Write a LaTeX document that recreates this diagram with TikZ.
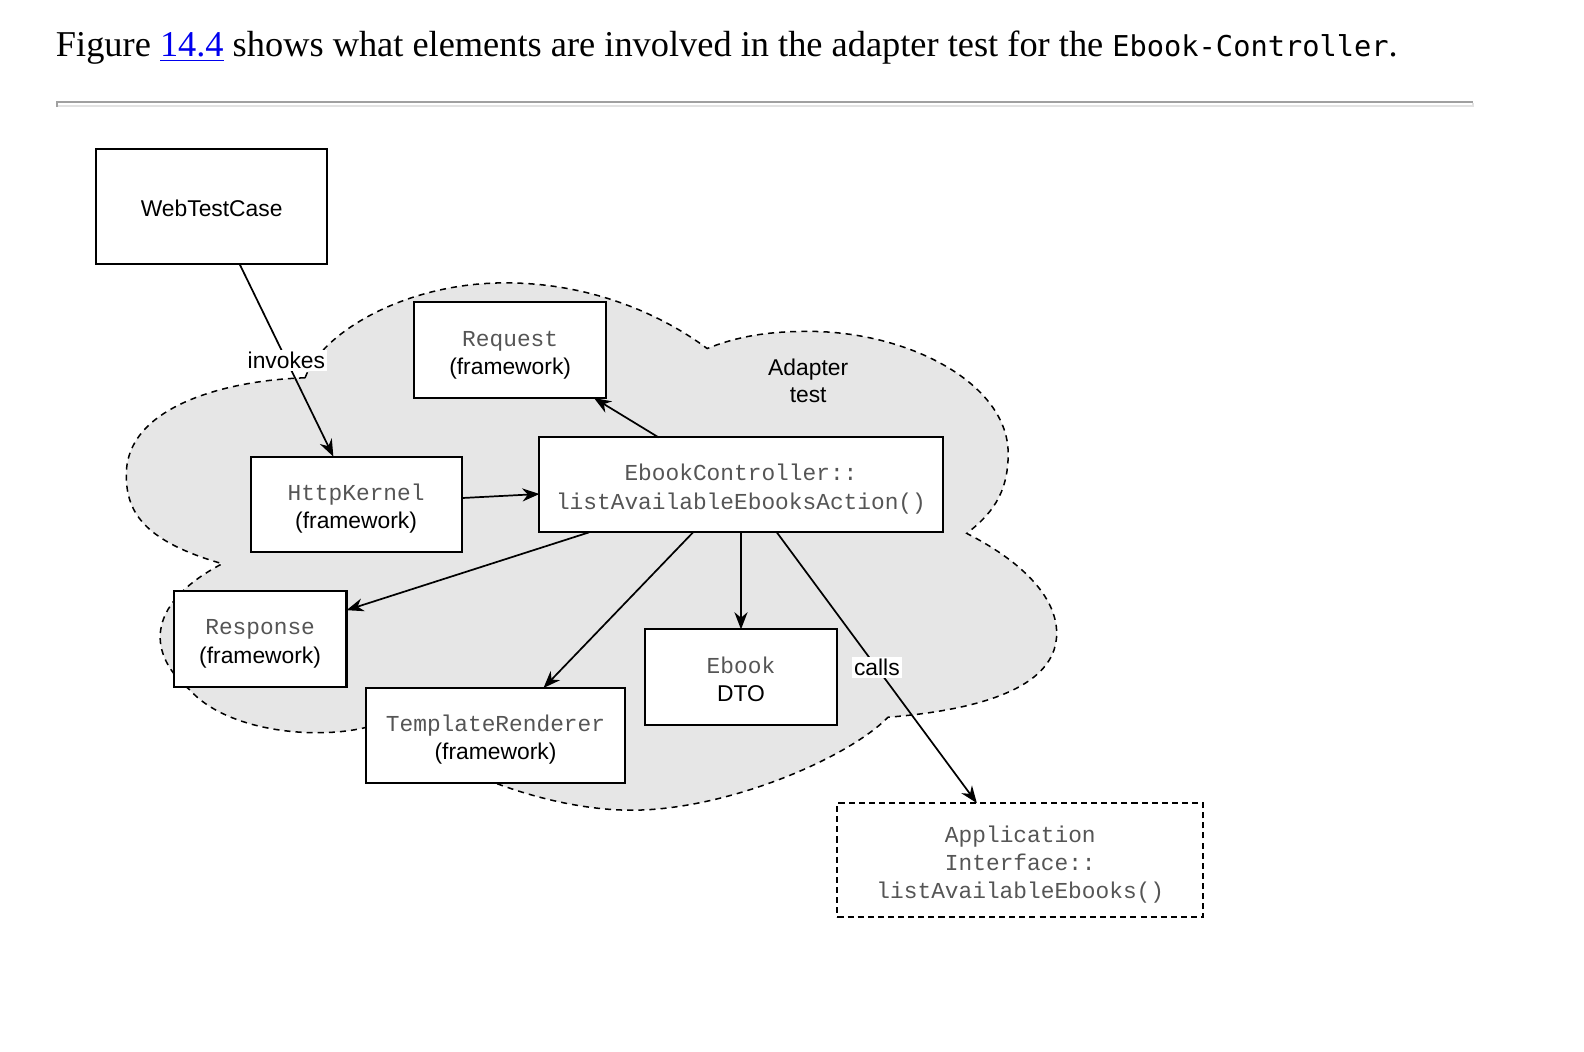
\documentclass[tikz,border=0pt]{standalone}
\usepackage{fontspec}
\setmainfont{Liberation Serif}
\setsansfont{Liberation Sans}
\setmonofont{Liberation Mono}
\newfontfamily\headmono{DejaVu Sans Mono}
\usetikzlibrary{arrows.meta}
\definecolor{cloudgray}{HTML}{E6E6E6}
\definecolor{codegray}{HTML}{555555}
\definecolor{linkblue}{HTML}{0000EE}
\definecolor{ruledark}{HTML}{A0A0A0}
\definecolor{rulelight}{HTML}{E2E2E2}
\newcommand{\codetxt}[1]{{\ttfamily\color{codegray}#1}}
\newcommand{\topline}{\rule{0pt}{13pt}}

\begin{document}
\begin{tikzpicture}[x=0.5pt, y=-0.5pt,
		box/.style = {
			draw, rectangle, fill=white,
			line width=1pt, align=center,
			outer sep=0pt, inner sep=0pt,
			font=\sffamily\fontsize{11.3}{14}\selectfont,
			execute at end node={\rule[-3pt]{0pt}{0pt}}
		},
		conn/.style = {line width=0.85pt, -{Stealth[length=8.5pt, width=6.5pt]}},
		lbl/.style = {fill=white, inner sep=1pt, font=\sffamily\fontsize{11.3}{13}\selectfont}
		]
		\useasboundingbox (0,0) rectangle (1568,1041);
		\node[anchor=base west, inner sep=0pt, font=\fontsize{18}{20}\selectfont] (caption) at (55,56)
			{Figure \textcolor{linkblue}{\underline{14.4}} shows what elements are involved in the adapter test for the {\headmono\fontsize{14.2}{16}\selectfont Ebook-Controller}.};
		\draw[line width=1pt, ruledark] (56,106) -- (56,101) -- (1458,101);
		\draw[line width=1pt, rulelight] (57,105) -- (1458,105) -- (1458,102);
		% adapter test cloud
		\path[draw, fill=cloudgray, line width=0.75pt, dash pattern=on 3pt off 2.5pt]
			(302,374) .. controls (318,330) and (400,280) .. (500,280)
			.. controls (590,280) and (660,315) .. (700,345)
			.. controls (730,333) and (760,328) .. (800,328)
			.. controls (900,328) and (998,380) .. (998,449)
			.. controls (998,490) and (980,510) .. (957,528)
			.. controls (1010,555) and (1046,590) .. (1046,627)
			.. controls (1046,690) and (940,705) .. (879,710)
			.. controls (840,750) and (720,802) .. (625,802)
			.. controls (540,802) and (430,760) .. (385,712)
			.. controls (340,735) and (230,730) .. (188,683)
			.. controls (148,650) and (140,600) .. (220,558)
			.. controls (140,535) and (125,505) .. (125,470)
			.. controls (125,400) and (230,376) .. cycle;
		\node[font=\sffamily\fontsize{11.3}{13.5}\selectfont, align=center] (title) at (800,377) {Adapter\\test};
		\node[box, minimum width=114.5pt, minimum height=57pt] (web) at (209.5,204) {\topline WebTestCase};
		\node[box, minimum width=95pt, minimum height=47.5pt] (req) at (505,346.5) {\topline\codetxt{Request}\\(framework)};
		\node[box, minimum width=104.5pt, minimum height=47pt] (kernel) at (352.5,499) {\topline\codetxt{HttpKernel}\\(framework)};
		\node[box, minimum width=199.5pt, minimum height=47pt] (ctrl) at (733.5,480) {\topline\codetxt{EbookController::}\\\codetxt{listAvailableEbooksAction()}};
		\node[box, minimum width=85.5pt, minimum height=47.5pt] (resp) at (257.5,632.5) {\topline\codetxt{Response}\\(framework)};
		\node[box, minimum width=128.5pt, minimum height=47pt] (tmpl) at (490.5,728) {\topline\codetxt{TemplateRenderer}\\(framework)};
		\node[box, minimum width=95.5pt, minimum height=47.5pt] (dto) at (733.5,670.5) {\topline\codetxt{Ebook}\\DTO};
		\node[box, dash pattern=on 3pt off 2pt, minimum width=181pt, minimum height=56.5pt] (api) at (1010,851.5)
			{\topline\codetxt{Application}\\\codetxt{Interface::}\\\codetxt{listAvailableEbooks()}};
		\draw[conn] ([xshift=13.75pt]web.south) -- node[lbl] {invokes} ([xshift=-11.25pt]kernel.north);
		\draw[conn] ([yshift=3pt]kernel.east) -- ([yshift=-4.5pt]ctrl.west);
		\draw[conn] ([xshift=-40.75pt]ctrl.north) -- ([xshift=-6pt]req.south east);
		\draw[conn] ([xshift=-75.25pt]ctrl.south) -- ([yshift=14.25pt]resp.east);
		\draw[conn] ([xshift=-23.75pt]ctrl.south) -- ([xshift=23.75pt]tmpl.north);
		\draw[conn] (ctrl.south) -- (dto.north);
		\draw[conn] ([xshift=17.75pt]ctrl.south) -- node[lbl] {calls} ([xshift=-21.5pt]api.north);
	\end{tikzpicture}
\end{document}
